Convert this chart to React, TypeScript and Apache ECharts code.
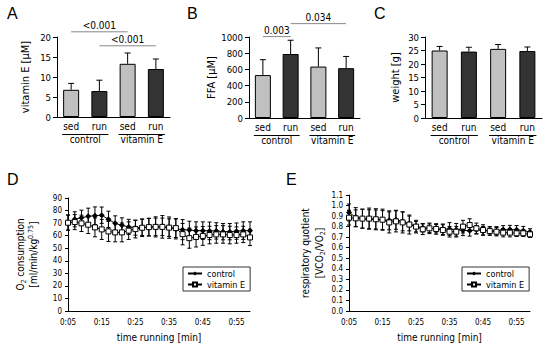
import React, { useEffect, useRef } from 'react';
import * as echarts from 'echarts';

// ---------- data ----------
const barCategories = ['control sed', 'control run', 'vitamin E sed', 'vitamin E run'];
const groupLabels = ['control', 'vitamin E'];

const vitaminEValues = [6.8, 6.5, 13.3, 12.0];
const vitaminEErr = [1.6, 2.7, 2.7, 2.5];
const ffaValues = [530, 790, 635, 615];
const ffaErr = [190, 170, 230, 145];
const weightValues = [25.0, 24.6, 25.6, 24.8];
const weightErr = [1.5, 1.6, 1.6, 1.5];

// significance brackets: [fromCategory, toCategory, height]
const sigA = [[0, 2, 21.3], [1, 3, 17.8]];
const sigALabels = ['<0.001', '<0.001'];
const sigB = [[0, 1, 1005], [1, 3, 1165]];
const sigBLabels = ['0.003', '0.034'];

const timeLabels = [
  '0:05', '0:07', '0:09', '0:11', '0:13', '0:15', '0:17', '0:19', '0:21', '0:23',
  '0:25', '0:27', '0:29', '0:31', '0:33', '0:35', '0:37', '0:39', '0:41', '0:43',
  '0:45', '0:47', '0:49', '0:51', '0:53', '0:55', '0:57', '0:59',
];

const o2Control = [70.5, 73, 74.3, 75.4, 75.9, 76.3, 73, 69.8, 68.2, 67, 66.4, 66.6, 66.8, 67, 67, 66.4, 65.4, 64.8, 64.5, 64, 64, 63.8, 63.8, 63.2, 63.2, 63.6, 64, 64];
const o2ControlErr = [6, 6, 6, 6.5, 7, 6.5, 6.5, 6, 6, 6, 6, 6.5, 7, 8, 9, 8.5, 8, 8, 7, 7, 7, 7, 6.5, 6.5, 6.5, 6.5, 7, 7];
const o2VitE = [70.3, 70.8, 69.8, 68.7, 66.6, 65, 63.4, 62.6, 62.6, 64, 65.2, 66.3, 66.8, 67, 67, 66.4, 66, 61.2, 58, 59, 59.8, 60.5, 61, 61, 60.5, 60.5, 61, 58.6];
const o2VitEErr = [6, 6, 6.5, 7, 7.5, 8, 8, 7.5, 7.5, 7, 7, 7, 7, 7, 7, 7, 7.5, 8.5, 8, 8, 7.5, 7, 7, 7, 7, 6.5, 6.5, 6.5];

const rqControl = [0.935, 0.89, 0.875, 0.87, 0.868, 0.862, 0.86, 0.865, 0.85, 0.83, 0.8, 0.79, 0.785, 0.78, 0.775, 0.778, 0.77, 0.765, 0.76, 0.77, 0.762, 0.76, 0.76, 0.77, 0.772, 0.77, 0.762, 0.75];
const rqControlErr = [0.08, 0.09, 0.09, 0.09, 0.09, 0.09, 0.09, 0.09, 0.09, 0.07, 0.05, 0.04, 0.04, 0.04, 0.05, 0.06, 0.06, 0.05, 0.05, 0.04, 0.04, 0.04, 0.04, 0.04, 0.04, 0.04, 0.04, 0.03];
const rqVitE = [0.885, 0.879, 0.876, 0.876, 0.87, 0.866, 0.84, 0.85, 0.84, 0.82, 0.8, 0.775, 0.784, 0.778, 0.768, 0.752, 0.752, 0.8, 0.815, 0.784, 0.768, 0.758, 0.752, 0.743, 0.743, 0.737, 0.737, 0.727];
const rqVitEErr = [0.07, 0.08, 0.09, 0.1, 0.1, 0.1, 0.1, 0.1, 0.1, 0.09, 0.06, 0.05, 0.05, 0.05, 0.05, 0.05, 0.05, 0.06, 0.06, 0.05, 0.05, 0.04, 0.04, 0.04, 0.04, 0.03, 0.03, 0.03];

// ---------- styles ----------
const FONT = '"DejaVu Sans Condensed", "DejaVu Sans", sans-serif';
const LIGHT = '#c0c0c0';
const DARK = '#333333';

function errorRender(twoSided: boolean, capHalf: number) {
  return (params: any, api: any) => {
    const x = api.value(0);
    const v = api.value(1);
    const e = api.value(2);
    const top = api.coord([x, v + e]);
    const bot = api.coord([x, twoSided ? v - e : v]);
    const style = { stroke: '#000', lineWidth: 1 };
    const children: any[] = [
      { type: 'line', shape: { x1: top[0], y1: top[1], x2: bot[0], y2: bot[1] }, style },
      { type: 'line', shape: { x1: top[0] - capHalf, y1: top[1], x2: top[0] + capHalf, y2: top[1] }, style },
    ];
    if (twoSided) {
      children.push({ type: 'line', shape: { x1: bot[0] - capHalf, y1: bot[1], x2: bot[0] + capHalf, y2: bot[1] }, style });
    }
    return { type: 'group', children };
  };
}

function sigRender(labels: string[]) {
  return (params: any, api: any) => {
    const a = api.coord([api.value(0), api.value(2)]);
    const b = api.coord([api.value(1), api.value(2)]);
    return {
      type: 'group',
      children: [
        { type: 'line', shape: { x1: a[0], y1: a[1], x2: b[0], y2: b[1] }, style: { stroke: '#888', lineWidth: 1 } },
        {
          type: 'text', x: (a[0] + b[0]) / 2, y: a[1] - 1,
          style: { text: labels[params.dataIndex], align: 'center', verticalAlign: 'bottom', fill: '#000', fontSize: 10, fontFamily: FONT },
        },
      ],
    };
  };
}

const barGrids = [
  { left: 57, width: 113, top: 37, height: 80 },
  { left: 249, width: 111, top: 37, height: 81 },
  { left: 425, width: 117, top: 37, height: 81 },
];
const lineGrids = [
  { left: 68, width: 182, top: 198, height: 113 },
  { left: 349, width: 181, top: 195, height: 116 },
];

const barYAxes = [
  { min: 0, max: 20, interval: 5, name: 'vitamin E [µM]', nameGap: 26 },
  { min: 0, max: 1000, interval: 200, name: 'FFA [µM]', nameGap: 32 },
  { min: 0, max: 30, interval: 5, name: 'weight [g]', nameGap: 24 },
];

function buildOption() {
  const xAxis: any[] = [];
  const yAxis: any[] = [];
  const series: any[] = [];
  const grid: any[] = [...barGrids, ...lineGrids];

  barGrids.forEach((_, g) => {
    xAxis.push({
      gridIndex: g, type: 'category', data: barCategories,
      axisLine: { lineStyle: { color: '#000' } }, axisTick: { show: false },
      axisLabel: { color: '#000', fontSize: 10, fontFamily: FONT, margin: 4, formatter: (v: string) => v.split(' ').pop() },
    });
  });
  barGrids.forEach((_, g) => {
    xAxis.push({
      gridIndex: g, type: 'category', data: groupLabels, position: 'bottom', offset: 13,
      axisLine: { show: false }, axisTick: { show: false },
      axisLabel: { color: '#000', fontSize: 10, fontFamily: FONT, margin: 4 },
    });
  });
  lineGrids.forEach((_, i) => {
    xAxis.push({
      gridIndex: 3 + i, type: 'category', data: timeLabels, boundaryGap: false,
      axisLine: { lineStyle: { color: '#000' } }, axisTick: { show: false },
      axisLabel: { color: '#000', fontSize: 8, fontFamily: FONT, margin: 7, interval: 4 },
      name: 'time running [min]', nameLocation: 'middle', nameGap: 21, nameMoveOverlap: false,
      nameTextStyle: { color: '#000', fontSize: 10, fontFamily: FONT },
    });
  });

  barYAxes.forEach((a, g) => {
    yAxis.push({
      gridIndex: g, type: 'value', min: a.min, max: a.max, interval: a.interval,
      axisLine: { show: true, lineStyle: { color: '#000' } },
      axisTick: { show: true, length: 4, lineStyle: { color: '#000' } },
      splitLine: { show: false },
      axisLabel: { color: '#000', fontSize: 9.5, fontFamily: FONT, margin: 6, formatter: (v: number) => String(v) },
      name: a.name, nameLocation: 'middle', nameRotate: 90, nameGap: a.nameGap, nameMoveOverlap: false,
      nameTextStyle: { color: '#000', fontSize: 11, fontFamily: FONT },
    });
  });

  yAxis.push({
    gridIndex: 3, type: 'value', min: 0, max: 90, interval: 10,
    axisLine: { show: true, lineStyle: { color: '#000' } },
    axisTick: { show: true, length: 3, lineStyle: { color: '#000' } },
    splitLine: { show: false },
    axisLabel: { color: '#000', fontSize: 8, fontFamily: FONT, margin: 6 },
    name: '{a|O}{s|2}{a| consumption}\n{a|[ml/min/kg}{p|0.75}{a|]}',
    nameLocation: 'middle', nameRotate: 90, nameGap: 28, nameMoveOverlap: false,
    nameTextStyle: {
      color: '#000', fontSize: 10, fontFamily: FONT, lineHeight: 13,
      rich: {
        a: { fontSize: 10, fontFamily: FONT, color: '#000', lineHeight: 13 },
        s: { fontSize: 7, fontFamily: FONT, color: '#000', verticalAlign: 'bottom', lineHeight: 13 },
        p: { fontSize: 7, fontFamily: FONT, color: '#000', verticalAlign: 'top', lineHeight: 13 },
      },
    },
  });
  yAxis.push({
    gridIndex: 4, type: 'value', min: 0, max: 1.1, interval: 0.1,
    axisLine: { show: true, lineStyle: { color: '#000' } },
    axisTick: { show: true, length: 3, lineStyle: { color: '#000' } },
    splitLine: { show: false },
    axisLabel: { color: '#000', fontSize: 8, fontFamily: FONT, margin: 6, formatter: (v: number) => v.toFixed(1) },
    name: '{a|respiratory quotient}\n{a|[VCO}{s|2}{a|/VO}{s|2}{a|]}',
    nameLocation: 'middle', nameRotate: 90, nameGap: 23, nameMoveOverlap: false,
    nameTextStyle: {
      color: '#000', fontSize: 10, fontFamily: FONT, lineHeight: 14,
      rich: {
        a: { fontSize: 10, fontFamily: FONT, color: '#000', lineHeight: 14 },
        s: { fontSize: 7, fontFamily: FONT, color: '#000', verticalAlign: 'bottom', lineHeight: 14 },
      },
    },
  });

  const barSets = [
    [vitaminEValues, vitaminEErr],
    [ffaValues, ffaErr],
    [weightValues, weightErr],
  ];
  barSets.forEach(([vals, errs], g) => {
    series.push({
      type: 'bar', name: 'bars' + g, xAxisIndex: g, yAxisIndex: g, barWidth: 16,
      data: vals.map((v, i) => ({ value: v, itemStyle: { color: i % 2 === 0 ? LIGHT : DARK } })),
      itemStyle: { borderColor: '#000', borderWidth: 1 },
      z: 2,
    });
    series.push({
      type: 'custom', name: 'err' + g, xAxisIndex: g, yAxisIndex: g,
      renderItem: errorRender(false, 3),
      data: vals.map((v, i) => [i, v, errs[i]]),
      encode: { x: 0, y: 1 }, z: 3, silent: true,
    });
  });

  const sigSets = [
    { g: 0, data: sigA, labels: sigALabels },
    { g: 1, data: sigB, labels: sigBLabels },
  ];
  sigSets.forEach((s) => {
    series.push({
      type: 'custom', name: 'sig' + s.g, xAxisIndex: s.g, yAxisIndex: s.g,
      renderItem: sigRender(s.labels), data: s.data, encode: { x: [0, 1], y: 2 }, z: 4, silent: true, clip: false,
    });
  });

  const lineSets = [
    { x: 6, y: 3, c: o2Control, ce: o2ControlErr, v: o2VitE, ve: o2VitEErr },
    { x: 7, y: 4, c: rqControl, ce: rqControlErr, v: rqVitE, ve: rqVitEErr },
  ];
  lineSets.forEach((s, k) => {
    series.push({
      type: 'custom', name: 'errC' + k, xAxisIndex: s.x, yAxisIndex: s.y,
      renderItem: errorRender(true, 2), data: s.c.map((v, i) => [i, v, s.ce[i]]), encode: { x: 0, y: 1 }, z: 1, silent: true,
    });
    series.push({
      type: 'custom', name: 'errV' + k, xAxisIndex: s.x, yAxisIndex: s.y,
      renderItem: errorRender(true, 2), data: s.v.map((v, i) => [i, v, s.ve[i]]), encode: { x: 0, y: 1 }, z: 1, silent: true,
    });
    series.push({
      type: 'line', name: 'control', xAxisIndex: s.x, yAxisIndex: s.y, data: s.c,
      symbol: 'diamond', symbolSize: 6, showAllSymbol: true,
      lineStyle: { color: '#000', width: 1 }, itemStyle: { color: '#000' }, z: 4,
    });
    series.push({
      type: 'line', name: 'vitamin E', xAxisIndex: s.x, yAxisIndex: s.y, data: s.v,
      symbol: 'rect', symbolSize: 5, showAllSymbol: true,
      lineStyle: { color: '#000', width: 1 }, itemStyle: { color: '#fff', borderColor: '#000', borderWidth: 1 }, z: 5,
    });
  });

  const legendBase = {
    orient: 'vertical', data: ['control', 'vitamin E'], selectedMode: false,
    borderColor: '#333', borderWidth: 1, padding: [2, 5, 2, 4], itemGap: 2, itemWidth: 14, itemHeight: 5,
    textStyle: { color: '#000', fontSize: 9, fontFamily: FONT },
  };

  return {
    animation: false,
    backgroundColor: '#fff',
    grid,
    xAxis,
    yAxis,
    series,
    legend: [
      { ...legendBase, left: 183, top: 267 },
      { ...legendBase, left: 462, top: 267 },
    ],
  };
}

export default function App() {
  const ref = useRef<HTMLDivElement>(null);
  useEffect(() => {
    document.body.style.margin = '0';
    const chart = echarts.init(ref.current!, null, { renderer: 'svg' });
    chart.setOption(buildOption() as any);

    const letterStyle = { fill: '#000', fontSize: 16, fontFamily: '"Liberation Sans", Arial, sans-serif' };
    const letters = [
      { t: 'A', x: 7, y: 5 }, { t: 'B', x: 187, y: 5 }, { t: 'C', x: 374, y: 5 },
      { t: 'D', x: 7, y: 171 }, { t: 'E', x: 286, y: 171 },
    ].map((l) => ({ type: 'text', left: l.x, top: l.y, style: { ...letterStyle, text: l.t } }));

    const underlines: any[] = [];
    [0, 1, 2].forEach((g) => {
      const y0 = chart.convertToPixel({ yAxisIndex: g } as any, 0) as number;
      [[0, 1], [2, 3]].forEach(([a, b]) => {
        const xa = chart.convertToPixel({ xAxisIndex: g } as any, a) as number;
        const xb = chart.convertToPixel({ xAxisIndex: g } as any, b) as number;
        underlines.push({
          type: 'line',
          shape: { x1: xa - 9, y1: Math.round(y0 + 17) + 0.5, x2: xb + 9, y2: Math.round(y0 + 17) + 0.5 },
          style: { stroke: '#000', lineWidth: 1 },
        });
      });
    });
    chart.setOption({ graphic: [...letters, ...underlines] } as any);
    return () => chart.dispose();
  }, []);
  return <div ref={ref} style={{ width: 550, height: 350 }} />;
}
